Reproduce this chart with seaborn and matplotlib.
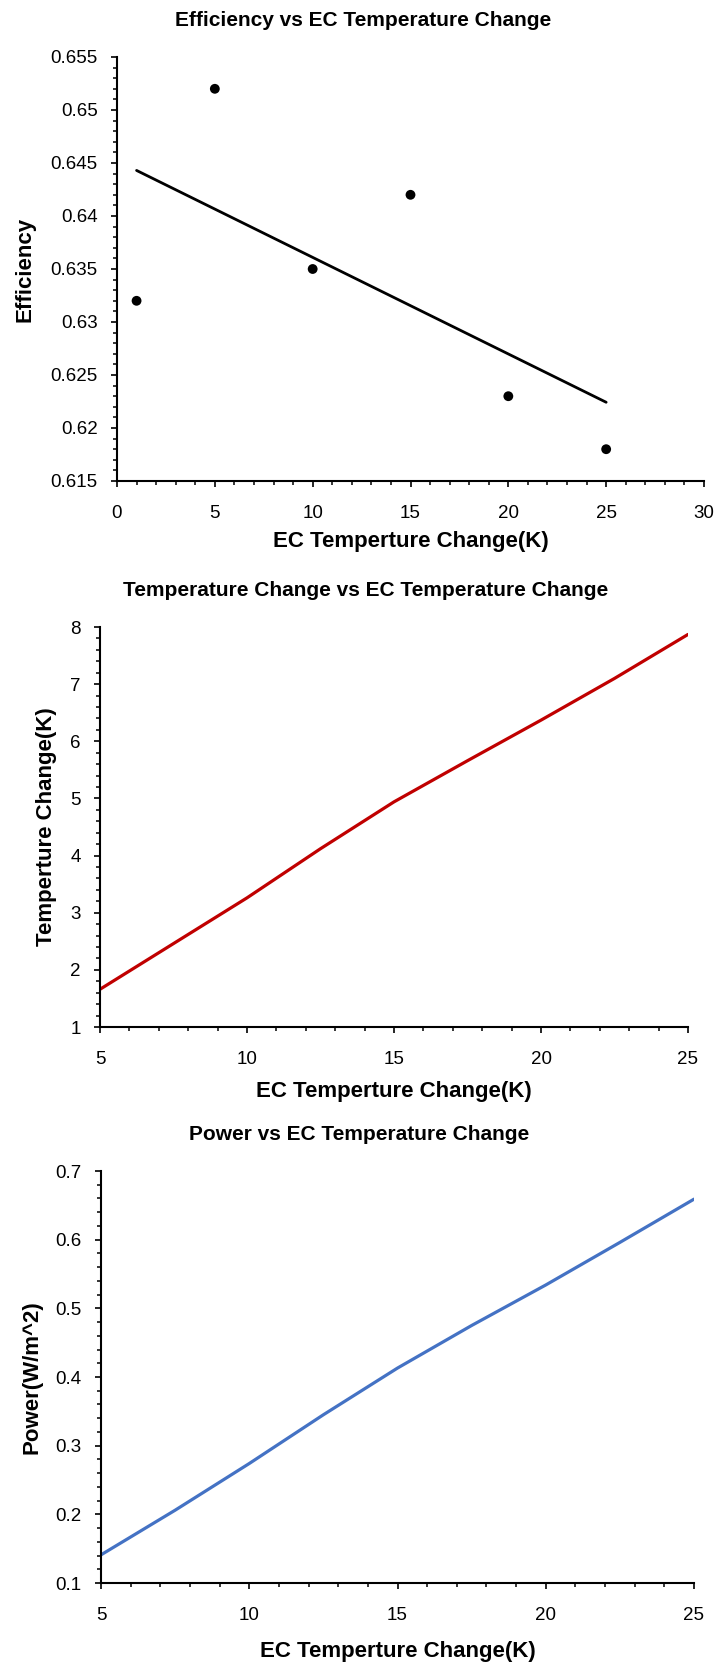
import numpy as np
import pandas as pd
import matplotlib
matplotlib.use("Agg")
import matplotlib.pyplot as plt
import seaborn as sns
from matplotlib.ticker import MultipleLocator, FuncFormatter

# efficiency vs EC temperature change (scatter + linear trend)
ec_eff = [1, 5, 10, 15, 20, 25]
efficiency = [0.632, 0.652, 0.635, 0.642, 0.623, 0.618]

# temperature change vs EC temperature change
ec_temp = [5, 7.5, 10, 12.5, 15, 17.5, 20, 22.5, 25]
temp_change = [1.66, 2.46, 3.26, 4.12, 4.94, 5.66, 6.37, 7.10, 7.87]

# power vs EC temperature change
ec_power = [5, 7.5, 10, 12.5, 15, 17.5, 20, 22.5, 25]
power = [0.141, 0.206, 0.274, 0.345, 0.413, 0.475, 0.534, 0.596, 0.659]

sns.set_theme(style="white")
plt.rcParams["font.family"] = ["Liberation Sans", "DejaVu Sans"]
plt.rcParams["text.color"] = "black"

W, H = 722, 1666
fig = plt.figure(figsize=(W / 100, H / 100), dpi=100)


def make_ax(left, top, right, bottom):
    return fig.add_axes([left / W, 1 - bottom / H, (right - left) / W, (bottom - top) / H])


def fmt_general(v, pos):
    return f"{round(v, 6):g}"


def style_ax(ax, xlim, xmaj, xmin, ylim, ymaj, ymin, px_h, px_w,
             xlab, ylab, xlab_off, ylab_x, left_px):
    ax.set_xlim(*xlim)
    ax.set_ylim(*ylim)
    ax.xaxis.set_major_locator(MultipleLocator(xmaj))
    ax.xaxis.set_minor_locator(MultipleLocator(xmin))
    ax.yaxis.set_major_locator(MultipleLocator(ymaj))
    ax.yaxis.set_minor_locator(MultipleLocator(ymin))
    ax.yaxis.set_major_formatter(FuncFormatter(fmt_general))
    ax.xaxis.set_major_formatter(FuncFormatter(fmt_general))
    for s in ["top", "right"]:
        ax.spines[s].set_visible(False)
    for s in ["left", "bottom"]:
        ax.spines[s].set_color("black")
        ax.spines[s].set_linewidth(1.5)
    ax.tick_params(which="major", direction="out", length=4, width=1.2,
                   color="black", labelsize=13.5, labelcolor="black")
    ax.tick_params(which="minor", direction="out", length=2.8, width=1.1,
                   color="black")
    ax.tick_params(axis="x", which="major", pad=13)
    ax.tick_params(axis="y", which="major", pad=10)
    ax.tick_params(which="both", bottom=True, left=True)
    ax.grid(False)
    ax.set_xlabel(xlab, fontsize=16, fontweight="bold", color="black")
    ax.set_ylabel(ylab, fontsize=16, fontweight="bold", color="black")
    ax.xaxis.label.set_va("center")
    ax.yaxis.label.set_va("center")
    ax.xaxis.set_label_coords(0.5, -xlab_off / px_h)
    ax.yaxis.set_label_coords(-(left_px - ylab_x) / px_w, 0.5)


# panel 1
ax1 = make_ax(117, 57, 704, 481)
df1 = pd.DataFrame({"ec": ec_eff, "eff": efficiency})
sns.regplot(data=df1, x="ec", y="eff", ax=ax1, ci=None, truncate=True,
            scatter_kws={"color": "black", "s": 50, "edgecolor": "none", "alpha": 1},
            line_kws={"color": "black", "lw": 2})
style_ax(ax1, (0, 30), 5, 1, (0.615, 0.655), 0.005, 0.001, 424, 587,
         "EC Temperture Change(K)", "Efficiency", 60, 25, 117)
fig.text(0.503, 1 - 20 / H, "Efficiency vs EC Temperature Change",
         ha="center", va="center", fontsize=15, fontweight="bold", color="black")

# panel 2
ax2 = make_ax(100, 627, 688, 1027)
df2 = pd.DataFrame({"ec": ec_temp, "dt": temp_change})
sns.lineplot(data=df2, x="ec", y="dt", ax=ax2, color="#C00000", lw=2.3)
style_ax(ax2, (5, 25), 5, 1, (1, 8), 1, 0.2, 400, 588,
         "EC Temperture Change(K)", "Temperture Change(K)", 64, 47, 100)
fig.text(366 / W, 1 - 591 / H, "Temperature Change vs EC Temperature Change",
         ha="center", va="center", fontsize=15, fontweight="bold", color="black")

# panel 3
ax3 = make_ax(101, 1171, 694, 1583)
df3 = pd.DataFrame({"ec": ec_power, "p": power})
sns.lineplot(data=df3, x="ec", y="p", ax=ax3, color="#4472C4", lw=2.3)
style_ax(ax3, (5, 25), 5, 1, (0.1, 0.7), 0.1, 0.02, 412, 593,
         "EC Temperture Change(K)", "Power(W/m^2)", 69, 32, 101)
fig.text(359 / W, 1 - 1134 / H, "Power vs EC Temperature Change",
         ha="center", va="center", fontsize=15, fontweight="bold", color="black")

fig.savefig("out.png", dpi=100, facecolor="white")
